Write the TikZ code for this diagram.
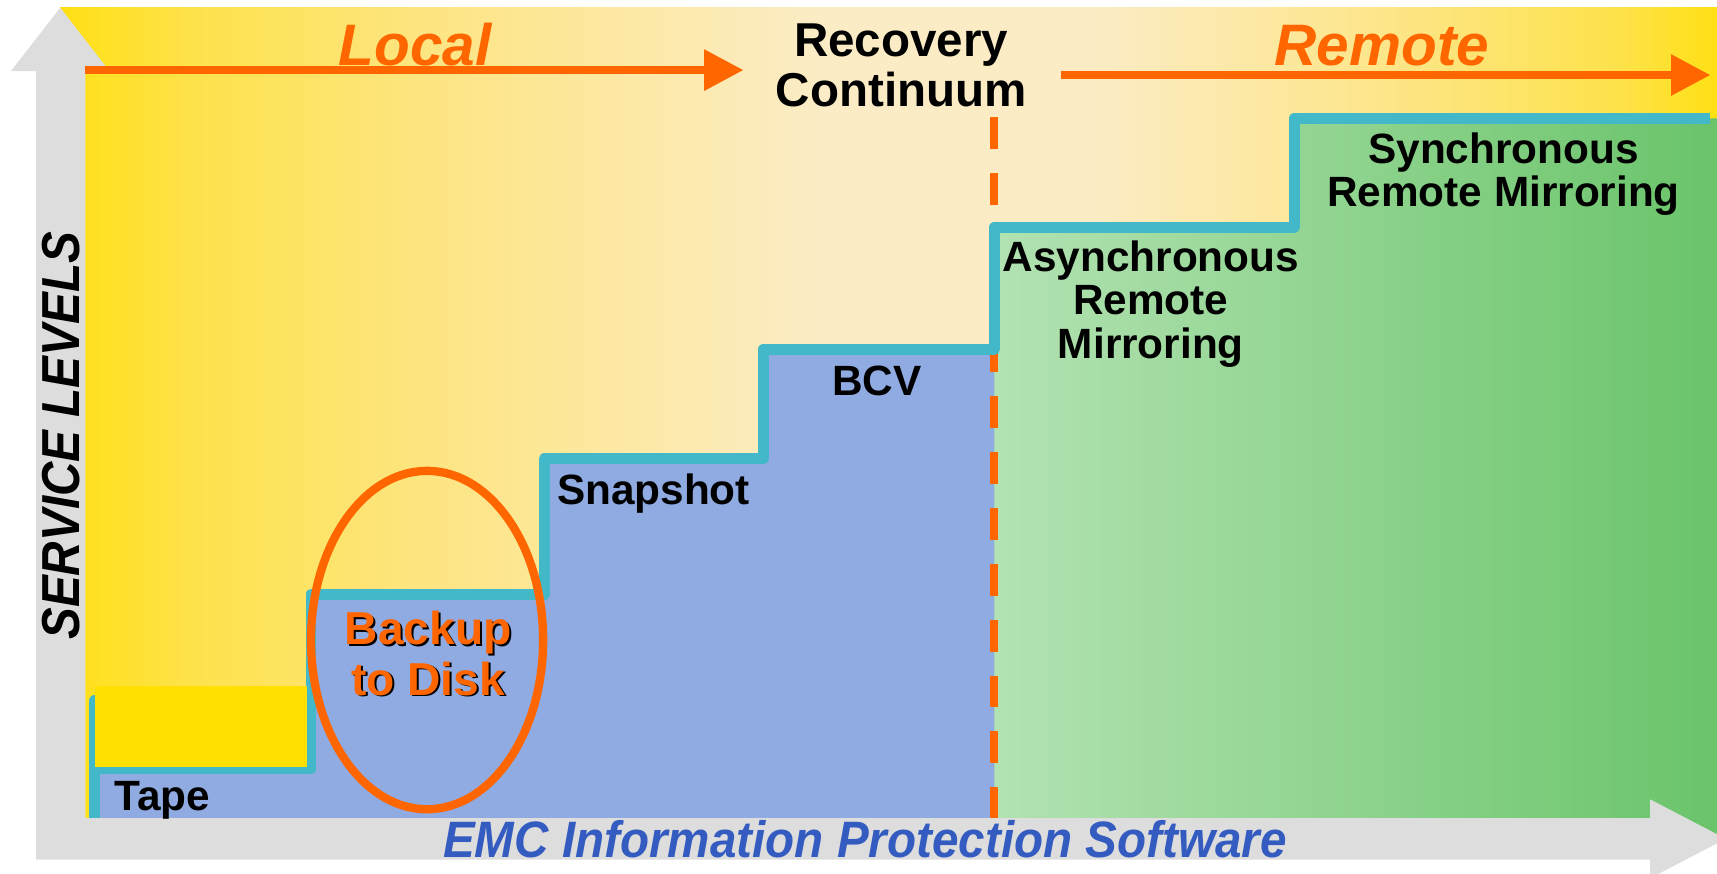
\documentclass[tikz,border=0pt]{standalone}
\usepackage{fontspec}
\setmainfont{Liberation Sans}
\usetikzlibrary{arrows.meta}

\definecolor{bgyellow}{RGB}{255,224,20}
\definecolor{bgyellowb}{RGB}{254,226,75}
\definecolor{bgyellowc}{RGB}{253,229,130}
\definecolor{bgcream}{RGB}{251,236,198}
\definecolor{stepblue}{RGB}{144,170,226}
\definecolor{lightgreen}{RGB}{178,226,178}
\definecolor{darkgreen}{RGB}{106,196,106}
\definecolor{stepteal}{RGB}{66,184,200}
\definecolor{emcorange}{RGB}{255,102,0}
\definecolor{axisgray}{RGB}{221,221,221}
\definecolor{boxyellow}{RGB}{255,224,0}
\definecolor{emcblue}{RGB}{52,92,192}

\pgfdeclarehorizontalshading{bgshade}{100bp}{color(0bp)=(bgyellow); color(25bp)=(bgyellow);
  color(29bp)=(bgyellowb); color(36bp)=(bgyellowc); color(48bp)=(bgcream); color(56bp)=(bgcream);
  color(66bp)=(bgyellowc); color(72bp)=(bgyellowb); color(75bp)=(bgyellow); color(100bp)=(bgyellow)}

\tikzset{
  stepline/.style={draw=stepteal, line width=1mm, line join=round},
  orangearrow/.style={draw=emcorange, line width=0.73mm, -{Triangle[length=3.6mm,width=3.6mm]}},
  lbl/.style={font=\fontsize{11}{11.3}\selectfont\bfseries},
  sidelbl/.style={text=emcorange, font=\fontsize{15.2}{18}\selectfont\bfseries\itshape},
}

\begin{document}
\begin{tikzpicture}[x=0.1mm,y=-0.1mm]
\useasboundingbox (0,0) rectangle (1568,798);
% background and the two regions
\shade[shading=bgshade] (55,7) rectangle (1568,747);
\shade[left color=lightgreen, right color=darkgreen] (908,207.5) -- (1182,207.5) -- (1182,108) -- (1568,108) -- (1568,765) -- (1507,747) -- (908,747) -- cycle;
\fill[stepblue] (86.5,747) -- (86.5,702) -- (284,702) -- (284,542.5) -- (497,542.5) -- (497,419) -- (697,419) -- (697,319) -- (908,319) -- (908,747) -- cycle;

\coordinate (divtop) at (908,107);
\coordinate (divbot) at (908,747);
\draw[emcorange, line width=0.7mm, dash pattern=on 2.9mm off 2.2mm] (divtop) -- (divbot);

% steps
\draw[stepline] (86.5,640) rectangle (284,702);
\draw[stepline] (86.5,747) -- (86.5,702) -- (284,702) -- (284,542.5) -- (497,542.5) -- (497,419) -- (697,419) -- (697,319) -- (908,319) -- (908,207.5) -- (1182,207.5) -- (1182,108) -- (1562,108);
\fill[boxyellow] (87,626) rectangle (280,700.5);

% axes
\fill[axisgray] (33,785) -- (33,65) -- (10,65) -- (55,7) -- (100,65) -- (78,65) -- (78,747) -- (1507,747) -- (1507,730) -- (1576,766) -- (1507,802) -- (1507,785) -- cycle;

\coordinate (localstart) at (78,64);
\coordinate (localend) at (679,64);
\coordinate (remotestart) at (969,68.5);
\coordinate (remoteend) at (1562,68.5);
\draw[orangearrow] (localstart) -- (localend);
\draw[orangearrow] (remotestart) -- (remoteend);

\draw[emcorange, line width=0.76mm] (390,584.5) ellipse [x radius=106, y radius=154.5];

\begin{scope}[every node/.style={inner sep=0pt, align=center}]
    \node[sidelbl, anchor=base] (local) at (379,59.4) {Local};
    \node[sidelbl, anchor=base] (remote) at (1262,59.4) {Remote};
    \node[anchor=base, font=\fontsize{12.35}{12.8}\selectfont\bfseries] (recovery) at (823,96.8) {Recovery\\Continuum};
    \node[rotate=90, font=\fontsize{13.9}{14}\selectfont\bfseries\itshape] (service) at (55.5,398) {\scalebox{0.89}[1]{SERVICE LEVELS}};
    \node[text=emcblue, font=\fontsize{13.3}{14}\selectfont\bfseries\itshape] (emc) at (790,766.5) {\scalebox{0.93}[1]{EMC Information Protection Software}};
    \node[lbl, anchor=base west] (tape) at (104,740) {Tape};
    \node[anchor=base, font=\fontsize{12}{13}\selectfont\bfseries] (backupshadow) at (392.8,636.5) {Backup\\to Disk};
    \node[anchor=base, text=emcorange, font=\fontsize{12}{13}\selectfont\bfseries] (backup) at (391,634.7) {Backup\\to Disk};
    \node[lbl, anchor=base west] (snapshot) at (508,461) {Snapshot};
    \node[lbl, anchor=base] (bcv) at (801,361.6) {BCV};
    \node[anchor=base, font=\fontsize{11}{11.24}\selectfont\bfseries] (async) at (1051,327) {Asynchronous\\Remote\\Mirroring};
    \node[anchor=base, font=\fontsize{11}{11.4}\selectfont\bfseries] (sync) at (1373,189) {Synchronous\\Remote Mirroring};
\end{scope}
\end{tikzpicture}
\end{document}
